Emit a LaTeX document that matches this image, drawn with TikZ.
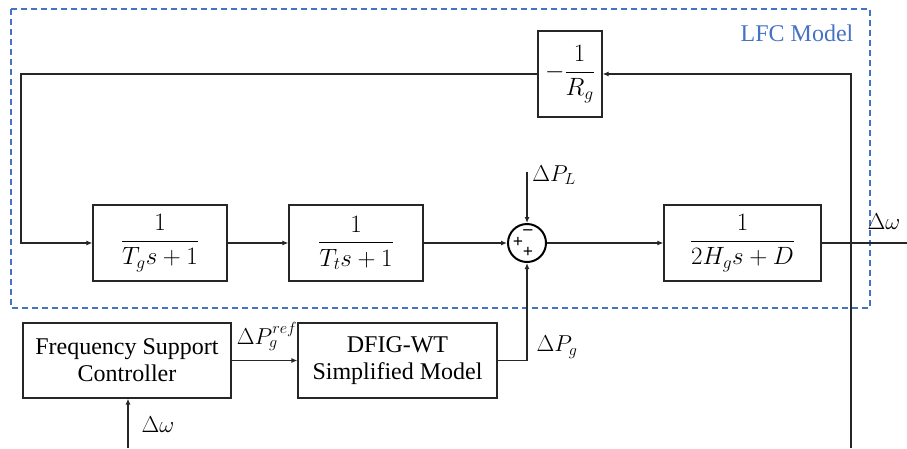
\RequirePackage{fix-cm}
\documentclass[tikz,border=0pt]{standalone}
\usepackage{amsmath}
\usepackage{fontspec}
\setmainfont{Liberation Serif}
\usetikzlibrary{arrows.meta}
\tikzset{>={Latex[length=6pt,width=5pt]}}
\definecolor{lfcblue}{RGB}{68,114,196}
\tikzset{
  wire/.style={line width=1.2pt, draw=black!85},
  block/.style={draw=black!85, line width=1.2pt, inner sep=0pt, minimum height=76pt, font=\fontsize{25}{29}\selectfont},
  txtblock/.style={draw=black!85, line width=1.2pt, inner sep=0pt, minimum height=75pt, align=center, font=\fontsize{24}{27}\selectfont},
  sumjunc/.style={draw=black, circle, line width=2pt, minimum size=38pt, inner sep=0pt},
  sign/.style={font=\fontsize{18}{18}\selectfont\bfseries, inner sep=0pt},
  lbl/.style={font=\fontsize{23}{27}\selectfont, inner sep=1pt}
}

\begin{document}
\begin{tikzpicture}[x=1pt, y=-1pt]
                \useasboundingbox (0,0) rectangle (907,448);

                % Draw the LFC model frame
                \draw[lfcblue, line width=1.2pt, dash pattern=on 6pt off 4pt] (11,9) rectangle (870,308);
                \node[text=lfcblue, font=\fontsize{24}{28}\selectfont] (lfc) at (797,33) {LFC Model};

                % Draw the blocks of the loop
                \node[block, minimum width=64pt, minimum height=86pt] (rg) at (570,74) {$-\dfrac{1}{R_g}$};
                \node[block, minimum width=134pt] (tg) at (160,243) {$\dfrac{1}{T_g s+1}$};
                \node[block, minimum width=134pt] (tt) at (356,243) {$\dfrac{1}{T_t s+1}$};
                \node[sumjunc] (sum) at (527,243) {};
                \node[block, minimum width=157pt] (hg) at (742.5,243) {$\dfrac{1}{2H_g s+D}$};

                % Draw the signs in the summing junction
                \node[sign] (sminus) at (528,232) {\textbf{--}};
                \node[sign] (splus1) at (518,242) {+};
                \node[sign] (splus2) at (528,252) {+};

                % Draw the blocks of the wind turbine
                \node[txtblock, minimum width=208pt] (fsc) at (127,360.5) {Frequency Support\\Controller};
                \node[txtblock, minimum width=199pt] (dfig) at (397.5,360.5) {DFIG-WT\\Simplified Model};

                % Free ends of the connectors
                \coordinate (topright) at (851,74);
                \coordinate (botright) at (851,448);
                \coordinate (topleft) at (21,74);
                \coordinate (wout) at (907,243);
                \coordinate (plin) at (527,172);
                \coordinate (win) at (128,448);

                % Draw the forward path
                \draw[wire,->] (tg) -- (tt);
                \draw[wire,->] (tt) -- (sum);
                \draw[wire,->] (sum) -- (hg);
                \draw[wire] (hg.east) -- (wout);
                \draw[wire,->] (plin) -- (sum.north);

                % Draw the feedback path
                \draw[wire,->] (botright) -- (topright) -- (rg.east);
                \draw[wire,->] (rg.west) -- (topleft) |- (tg.west);

                % Draw the frequency support path
                \draw[wire,->] (win) -- (win |- fsc.south);
                \draw[wire,->] (fsc) -- (dfig);
                \draw[wire,->] (dfig.east) -| (sum.south);

                % Draw the labels
                \node[lbl] (dpl) at (554,175) {$\Delta P_L$};
                \node[lbl] (dpg) at (557,347) {$\Delta P_g$};
                \node[lbl] (dpgref) at (267,336) {$\Delta P_g^{ref}$};
                \node[lbl] (dwout) at (884,222) {$\Delta\omega$};
                \node[lbl] (dwin) at (158,425) {$\Delta\omega$};
            \end{tikzpicture}
\end{document}
